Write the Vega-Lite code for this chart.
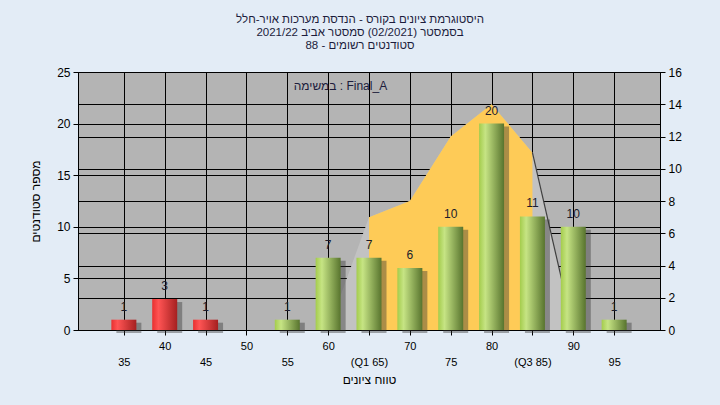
{
  "$schema": "https://vega.github.io/schema/vega-lite/v6.json",
  "width": 582,
  "height": 258,
  "autosize": {"type": "none"},
  "padding": {"left": 78, "top": 72, "right": 60, "bottom": 75},
  "background": "#E3ECF6",
  "config": {
    "font": "Liberation Sans",
    "view": {"fill": "#B4B4B4", "stroke": "#000000", "strokeWidth": 1},
    "axis": {
      "domainColor": "#000000",
      "tickColor": "#000000",
      "gridColor": "#000000",
      "gridOpacity": 1,
      "gridWidth": 1,
      "labelColor": "#000000",
      "titleColor": "#000000",
      "titleFontWeight": "normal",
      "labelFont": "Liberation Sans",
      "titleFont": "Liberation Sans"
    }
  },
  "title": {
    "text": [
      "היסטוגרמת ציונים בקורס - הנדסת מערכות אויר-חלל",
      "בסמסטר  (02/2021)  סמסטר אביב 2021/22",
      "סטודנטים רשומים - 88"
    ],
    "fontSize": 11.5,
    "fontWeight": "normal",
    "font": "Liberation Sans",
    "color": "#1C1C3C",
    "lineHeight": 13,
    "anchor": "middle",
    "offset": 15,
    "dx": -9
  },
  "datasets": {
    "bars": [
      {"score": 35, "count": 1, "result": "fail"},
      {"score": 40, "count": 3, "result": "fail"},
      {"score": 45, "count": 1, "result": "fail"},
      {"score": 55, "count": 1, "result": "pass"},
      {"score": 60, "count": 7, "result": "pass"},
      {"score": 65, "count": 7, "result": "pass"},
      {"score": 70, "count": 6, "result": "pass"},
      {"score": 75, "count": 10, "result": "pass"},
      {"score": 80, "count": 20, "result": "pass"},
      {"score": 85, "count": 11, "result": "pass"},
      {"score": 90, "count": 10, "result": "pass"},
      {"score": 95, "count": 1, "result": "pass"}
    ],
    "curve": [
      {"score": 60, "students": 0, "iqr": false},
      {"score": 65, "students": 7, "iqr": true},
      {"score": 70, "students": 8, "iqr": true},
      {"score": 75, "students": 12, "iqr": true},
      {"score": 80, "students": 14, "iqr": true},
      {"score": 85, "students": 11, "iqr": true},
      {"score": 90, "students": 0, "iqr": false}
    ],
    "note": [
      {"label": "במשימה : Final_A"}
    ]
  },
  "layer": [
    {
      "data": {"name": "curve"},
      "encoding": {
        "x": {
          "field": "score",
          "type": "quantitative",
          "scale": {"domain": [30, 100], "nice": false, "zero": false},
          "axis": {
            "values": [35, 40, 45, 50, 55, 60, 65, 70, 75, 80, 85, 90, 95],
            "labelExpr": "datum.value % 10 == 0 ? [datum.label] : ['', datum.value == 65 ? '(Q1 65)' : datum.value == 85 ? '(Q3 85)' : datum.label]",
            "labelLineHeight": 16,
            "labelFontSize": 11,
            "labelPadding": 5,
            "labelOverlap": false,
            "labelFlush": false,
            "labelBound": false,
            "tickSize": 5,
            "grid": true,
            "title": "טווח ציונים",
            "titleFontSize": 12,
            "titlePadding": 7
          }
        },
        "y": {
          "field": "students",
          "type": "quantitative",
          "scale": {"domain": [0, 16], "nice": false},
          "axis": {
            "orient": "right",
            "values": [0, 2, 4, 6, 8, 10, 12, 14, 16],
            "grid": true,
            "labelFontSize": 12,
            "tickSize": 5,
            "labelPadding": 3,
            "title": null
          }
        }
      },
      "layer": [
        {"mark": {"type": "area", "color": "#C2C2C2", "opacity": 1}},
        {
          "transform": [{"filter": "datum.iqr"}],
          "mark": {"type": "area", "color": "#FECB57", "opacity": 1}
        },
        {
          "transform": [{"filter": "datum.score >= 85"}],
          "mark": {"type": "line", "color": "#404040", "strokeWidth": 1.2}
        }
      ]
    },
    {
      "data": {"name": "bars"},
      "encoding": {
        "x": {"field": "score", "type": "quantitative"},
        "y": {
          "field": "count",
          "type": "quantitative",
          "scale": {"domain": [0, 25], "nice": false},
          "axis": {
            "orient": "left",
            "values": [0, 5, 10, 15, 20, 25],
            "grid": true,
            "labelFontSize": 12,
            "tickSize": 5,
            "labelPadding": 3,
            "title": "מספר סטודנטים",
            "titleFontSize": 12,
            "titlePadding": 14
          }
        }
      },
      "layer": [
        {
          "mark": {"type": "bar", "width": 25, "color": "#303030", "opacity": 0.4, "xOffset": 5, "yOffset": 3}
        },
        {
          "transform": [{"filter": "datum.result == 'fail'"}],
          "mark": {
            "type": "bar",
            "width": 25,
            "color": {
              "gradient": "linear", "x1": 0, "x2": 1, "y1": 0, "y2": 0,
              "stops": [
                {"offset": 0, "color": "#E83030"},
                {"offset": 0.25, "color": "#FF5454"},
                {"offset": 1, "color": "#A52020"}
              ]
            }
          }
        },
        {
          "transform": [{"filter": "datum.result == 'pass'"}],
          "mark": {
            "type": "bar",
            "width": 25,
            "color": {
              "gradient": "linear", "x1": 0, "x2": 1, "y1": 0, "y2": 0,
              "stops": [
                {"offset": 0, "color": "#A4CC4C"},
                {"offset": 0.25, "color": "#C6E484"},
                {"offset": 1, "color": "#58742E"}
              ]
            }
          }
        },
        {
          "mark": {"type": "text", "baseline": "middle", "dy": -13, "fontSize": 12, "color": "#1C1C2C"},
          "encoding": {"text": {"field": "count", "type": "quantitative"}}
        }
      ]
    },
    {
      "data": {"name": "note"},
      "mark": {"type": "text", "fontSize": 12, "color": "#1C1C3C", "baseline": "middle", "align": "center"},
      "encoding": {
        "x": {"datum": 61.5, "type": "quantitative"},
        "y": {"datum": 23.6, "type": "quantitative", "scale": {"domain": [0, 25], "nice": false}, "axis": null},
        "text": {"field": "label", "type": "nominal"}
      }
    }
  ],
  "resolve": {"scale": {"y": "independent"}}
}
